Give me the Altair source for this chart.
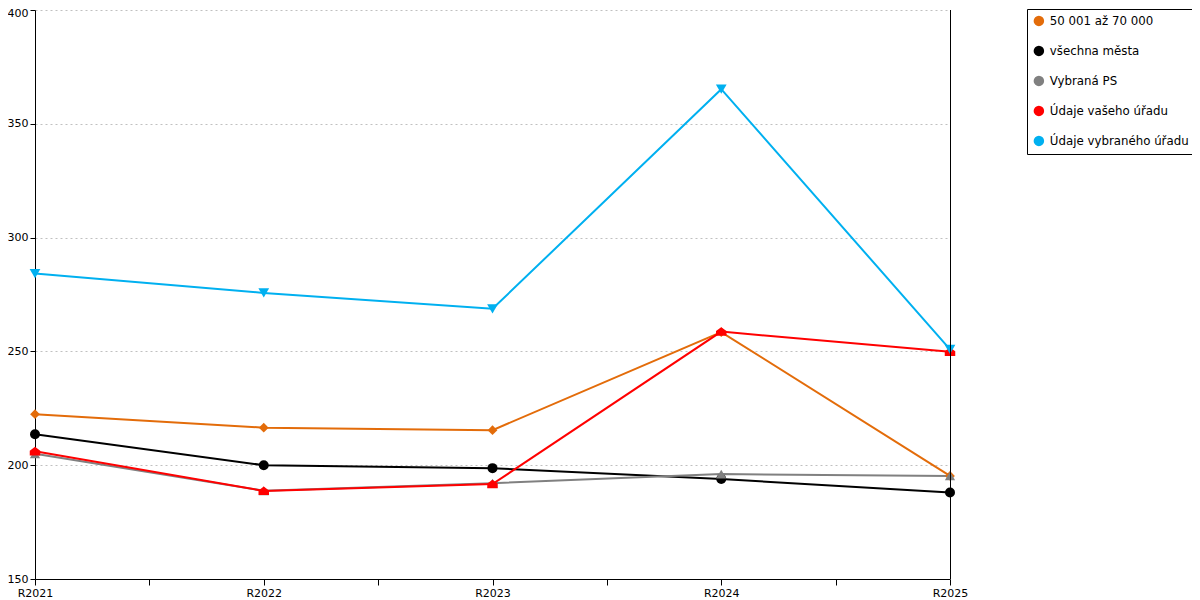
import altair as alt
import pandas as pd

years = ["R2021", "R2022", "R2023", "R2024", "R2025"]
series = ["50 001 až 70 000", "všechna města", "Vybraná PS", "Údaje vašeho úřadu", "Údaje vybraného úřadu"]
orange = [222.4, 216.5, 215.4, 258.5, 195.3]
black = [213.6, 200.0, 198.7, 193.9, 188.0]
gray = [205.0, 188.8, 192.1, 196.1, 195.3]
red = [206.1, 188.7, 191.7, 258.7, 249.8]
blue = [284.2, 275.7, 268.7, 365.2, 250.9]
colors = ["#E36C0A", "#000000", "#808080", "#FF0000", "#00B0F0"]
house = "M-1,0.8L-1,-0.1L0,-0.85L1,-0.1L1,0.8Z"
shapes = ["diamond", "circle", "triangle-up", house, "triangle-down"]
sizes = [95, 115, 140, 140, 140]

rows = []
for name, vals in zip(series, [orange, black, gray, red, blue]):
    for y, v in zip(years, vals):
        rows.append({"series": name, "line": name, "year": int(y[1:]), "value": v})
df = pd.DataFrame(rows)

font = "DejaVu Sans"
x = alt.X("year:Q", scale=alt.Scale(domain=[2021, 2025], nice=False, zero=False),
          axis=alt.Axis(values=[2021, 2021.5, 2022, 2022.5, 2023, 2023.5, 2024, 2024.5, 2025],
                        labelExpr="datum.value % 1 == 0 ? 'R' + datum.value : ''",
                        grid=False, domainColor="#000", tickColor="#000", tickSize=6,
                        labelFont=font, labelFontSize=11, labelColor="#000", labelPadding=2,
                        title=None, labelFlush=False))
y = alt.Y("value:Q", scale=alt.Scale(domain=[150, 400], nice=False, zero=False),
          axis=alt.Axis(values=[150, 200, 250, 300, 350, 400], grid=True, gridDash=[2, 3],
                        gridColor="#c0c0c0", domainColor="#000", tickColor="#000", tickSize=5,
                        labelFont=font, labelFontSize=11, labelColor="#000", title=None,
                        labelPadding=2, labelFlush=False,
                        labelOffset={"condition": {"test": "datum.value == 400", "value": 3}, "value": 0}))
cscale = alt.Scale(domain=series, range=colors)

leg = alt.Legend(title=None, orient="none", legendX=992, legendY=-1,
                 strokeColor="#000", padding=6, rowPadding=17,
                 labelFont=font, labelFontSize=11.8, labelColor="#000",
                 symbolSize=110, labelOffset=5, fillColor="#fff")

lines = alt.Chart(df).mark_line(strokeWidth=2).encode(
    x=x, y=y, color=alt.Color("series:N", scale=cscale, legend=None),
    detail="series:N", order="year:Q")

points = alt.Chart(df).mark_point(filled=True, opacity=1).encode(
    x=x, y=y,
    color=alt.Color("series:N", scale=cscale, legend=leg),
    shape=alt.Shape("series:N", scale=alt.Scale(domain=series, range=shapes), legend=None),
    size=alt.Size("line:N", scale=alt.Scale(domain=series, range=sizes), legend=None),
)

rightline = alt.Chart(pd.DataFrame({"edge": [2025]})).mark_rule(
    color="#000", strokeWidth=1, xOffset=0.5).encode(x=alt.X("edge:Q"))

chart = alt.layer(lines, points, rightline).resolve_legend(color="independent").properties(
    width=915, height=569,
    autosize=alt.AutoSizeParams(type="none"),
    padding={"left": 27, "top": 2, "right": 242, "bottom": 19},
).configure_view(stroke=None).configure_legend(symbolStrokeWidth=0)

chart.save("out.html", embed_options={"renderer": "svg", "actions": False})
